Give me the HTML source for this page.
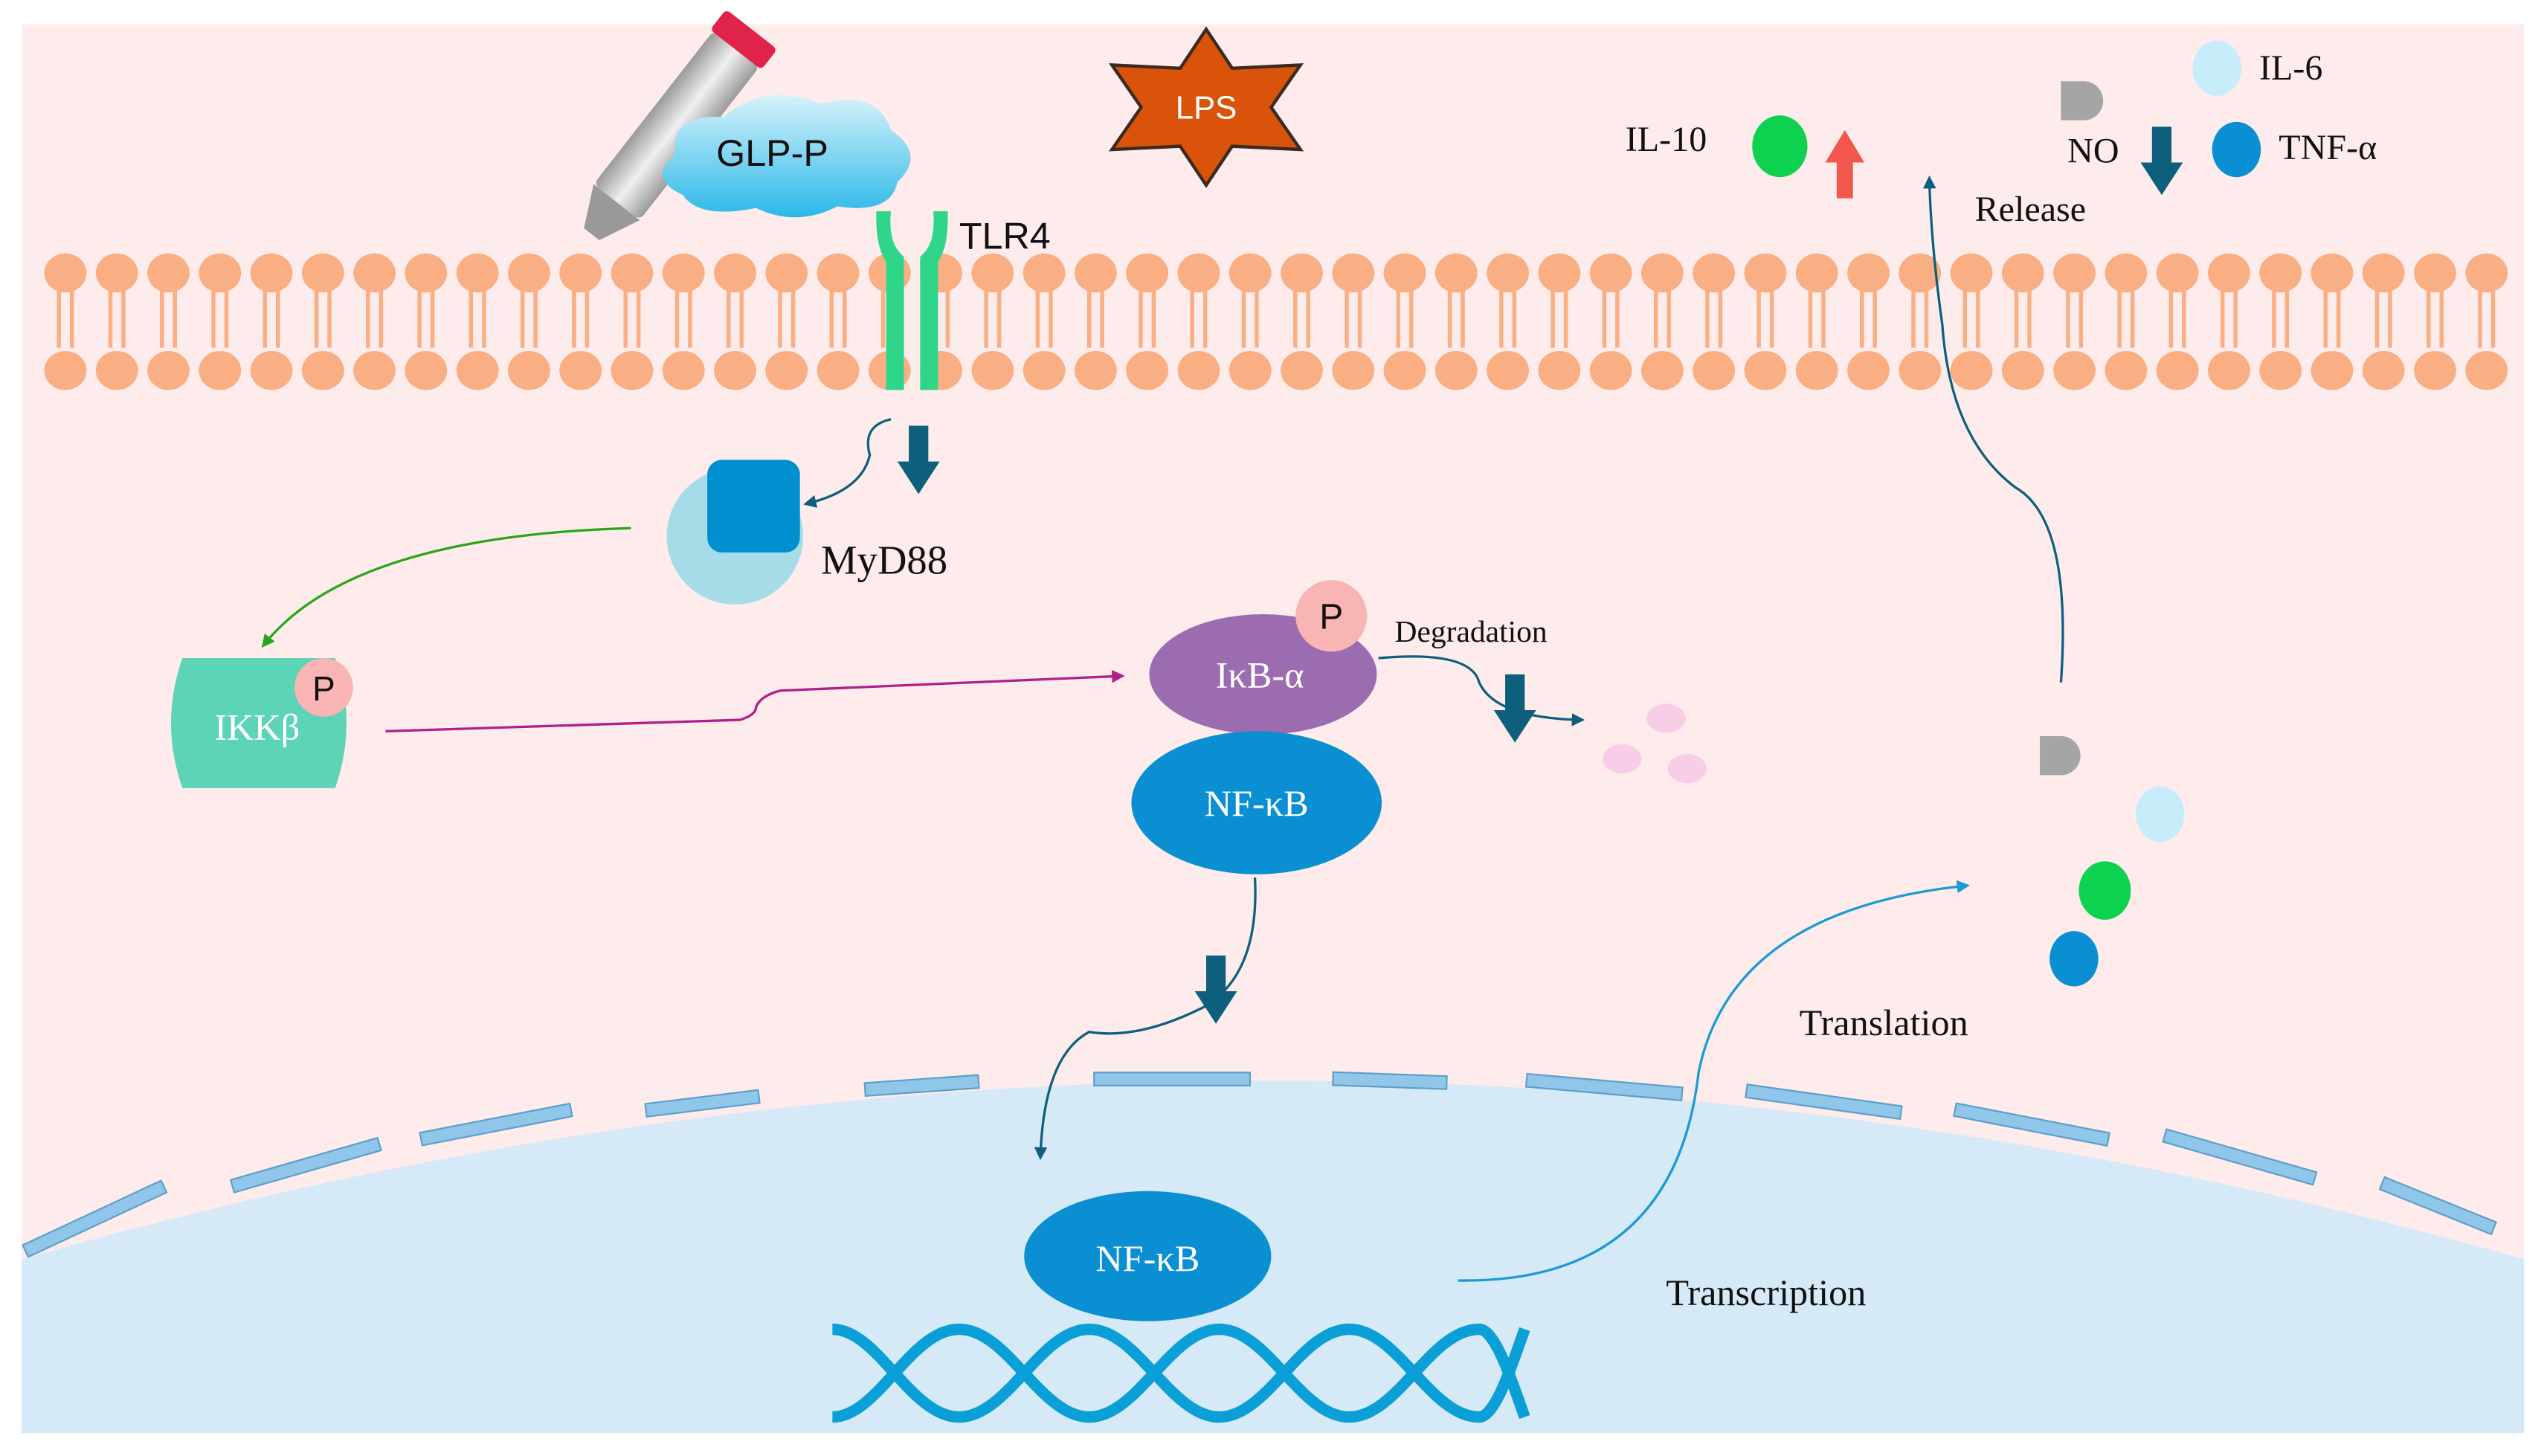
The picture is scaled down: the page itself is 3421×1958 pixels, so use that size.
<!DOCTYPE html>
<html><head><meta charset="utf-8"><style>
html,body{margin:0;padding:0;background:#fff;}
svg{display:block;}
text{font-family:"Liberation Serif",serif;fill:#111;}
</style></head><body>
<svg width="3421" height="1958" viewBox="0 0 1565 896" xmlns="http://www.w3.org/2000/svg">
<defs>
<marker id="ab" markerWidth="8" markerHeight="8" refX="6" refY="4" orient="auto" markerUnits="userSpaceOnUse"><path d="M0,0 L8,4 L0,8 z" fill="#0e5f7d"/></marker>
<marker id="abl" markerWidth="8" markerHeight="8" refX="6" refY="4" orient="auto" markerUnits="userSpaceOnUse"><path d="M0,0 L8,4 L0,8 z" fill="#1a9ad6"/></marker>
<marker id="ag" markerWidth="8" markerHeight="8" refX="6" refY="4" orient="auto" markerUnits="userSpaceOnUse"><path d="M0,0 L8,4 L0,8 z" fill="#2aa51a"/></marker>
<marker id="am" markerWidth="8" markerHeight="8" refX="6" refY="4" orient="auto" markerUnits="userSpaceOnUse"><path d="M0,0 L8,4 L0,8 z" fill="#b0208a"/></marker>
<linearGradient id="cl" x1="0" y1="0" x2="0" y2="1"><stop offset="0" stop-color="#d6f2fb"/><stop offset="1" stop-color="#2bb8e8"/></linearGradient>
<linearGradient id="tb" x1="0" y1="0" x2="1" y2="0"><stop offset="0" stop-color="#9a9a9a"/><stop offset="0.5" stop-color="#f0f0f0"/><stop offset="1" stop-color="#9a9a9a"/></linearGradient>
<g id="lip"><ellipse cx="0" cy="168" rx="13" ry="12" fill="#f9ae84"/><ellipse cx="0" cy="228" rx="13" ry="12" fill="#f9ae84"/><path d="M-4,178 V214 M4,178 V214" stroke="#f9ae84" stroke-width="2.5"/></g>
<g id="da"><rect x="-6" y="0" width="12" height="24" fill="#0e5f7d"/><path d="M-13,22 L13,22 L0,42 z" fill="#0e5f7d"/></g>
</defs>
<rect x="13" y="15" width="1540" height="867" fill="#fdeceb"/>
<path d="M13,775 Q780,555 1553,775 L1553,882 L13,882 Z" fill="#d6e9f6"/>
<g fill="#8fc6ea" stroke="#5d9fc9" stroke-width="1">
<rect x="-47" y="-4" width="94" height="8" transform="translate(58,750) rotate(-25)"/>
<rect x="-47" y="-4" width="94" height="8" transform="translate(188,717) rotate(-16)"/>
<rect x="-47" y="-4" width="94" height="8" transform="translate(305,692) rotate(-11)"/>
<rect x="-35" y="-4" width="70" height="8" transform="translate(432,679) rotate(-7)"/>
<rect x="-35" y="-4" width="70" height="8" transform="translate(567,668) rotate(-4)"/>
<rect x="-48" y="-4" width="96" height="8" transform="translate(721,664) rotate(0)"/>
<rect x="-35" y="-4" width="70" height="8" transform="translate(855,665) rotate(2)"/>
<rect x="-48" y="-4" width="96" height="8" transform="translate(987,669) rotate(5)"/>
<rect x="-48" y="-4" width="96" height="8" transform="translate(1122,678) rotate(8)"/>
<rect x="-48" y="-4" width="96" height="8" transform="translate(1250,692) rotate(11)"/>
<rect x="-48" y="-4" width="96" height="8" transform="translate(1378,712) rotate(16)"/>
<rect x="-37" y="-4" width="74" height="8" transform="translate(1500,742) rotate(22)"/>
</g>
<g>
<use href="#lip" x="40"/><use href="#lip" x="71.7"/><use href="#lip" x="103.4"/><use href="#lip" x="135.1"/><use href="#lip" x="166.8"/><use href="#lip" x="198.5"/><use href="#lip" x="230.2"/><use href="#lip" x="261.9"/><use href="#lip" x="293.6"/><use href="#lip" x="325.3"/><use href="#lip" x="357"/><use href="#lip" x="388.7"/><use href="#lip" x="420.4"/><use href="#lip" x="452.1"/><use href="#lip" x="483.8"/><use href="#lip" x="515.5"/><use href="#lip" x="547.2"/><use href="#lip" x="578.9"/><use href="#lip" x="610.6"/><use href="#lip" x="642.3"/><use href="#lip" x="674"/><use href="#lip" x="705.7"/><use href="#lip" x="737.4"/><use href="#lip" x="769.1"/><use href="#lip" x="800.8"/><use href="#lip" x="832.5"/><use href="#lip" x="864.2"/><use href="#lip" x="895.9"/><use href="#lip" x="927.6"/><use href="#lip" x="959.3"/><use href="#lip" x="991"/><use href="#lip" x="1022.7"/><use href="#lip" x="1054.4"/><use href="#lip" x="1086.1"/><use href="#lip" x="1117.8"/><use href="#lip" x="1149.5"/><use href="#lip" x="1181.2"/><use href="#lip" x="1212.9"/><use href="#lip" x="1244.6"/><use href="#lip" x="1276.3"/><use href="#lip" x="1308"/><use href="#lip" x="1339.7"/><use href="#lip" x="1371.4"/><use href="#lip" x="1403.1"/><use href="#lip" x="1434.8"/><use href="#lip" x="1466.5"/><use href="#lip" x="1498.2"/><use href="#lip" x="1529.9"/>
</g>
<g transform="translate(410,85) rotate(38)">
<rect x="-18" y="-70" width="36" height="120" rx="4" fill="url(#tb)"/>
<path d="M-18,50 L18,50 L6,75 L-6,75 z" fill="#999"/>
<rect x="-20" y="-85" width="40" height="16" rx="3" fill="#e0234a"/>
</g>
<path d="M420,120 Q398,110 415,95 Q412,70 445,72 Q470,50 505,64 Q540,55 548,80 Q570,95 552,112 Q548,132 515,127 Q490,140 465,128 Q430,135 420,120 z" fill="url(#cl)"/>
<text x="475" y="102" font-size="23" text-anchor="middle" style="font-family:'Liberation Sans',sans-serif">GLP-P</text>
<path d="M742,18 L758,42 L800,40 L782,66 L800,92 L758,90 L742,114 L726,90 L684,92 L702,66 L684,40 L726,42 z" fill="#d9540a" stroke="#3a2a20" stroke-width="2"/>
<text x="742" y="73" font-size="20" text-anchor="middle" style="font-family:'Liberation Sans',sans-serif;fill:#fff">LPS</text>
<g fill="#2fd68a">
<rect x="545" y="160" width="11" height="80"/><rect x="566" y="160" width="11" height="80"/>
<path d="M539,130 Q538,165 556,168 L556,158 Q546,150 548,130 z"/>
<path d="M583,130 Q584,165 566,168 L566,158 Q576,150 574,130 z"/>
</g>
<text x="590" y="153" font-size="23" style="font-family:'Liberation Sans',sans-serif">TLR4</text>
<use href="#da" x="565" y="262"/>
<path d="M548,258 Q530,262 535,280 Q530,302 496,310" fill="none" stroke="#0e5f7d" stroke-width="1.5" marker-end="url(#ab)"/>
<circle cx="452" cy="330" r="42" fill="#a6dbe8"/>
<rect x="435" y="283" width="57" height="57" rx="9" fill="#0090d0"/>
<text x="505" y="353" font-size="25">MyD88</text>
<path d="M388,325 Q215,330 162,397" fill="none" stroke="#2aa51a" stroke-width="1.5" marker-end="url(#ag)"/>
<path d="M112,405 L206,405 Q220,445 206,485 L112,485 Q98,445 112,405 z" fill="#5dd4b6"/>
<text x="158" y="455" font-size="23" text-anchor="middle" style="fill:#fff">IKKβ</text>
<circle cx="199" cy="423" r="18" fill="#f9b4b4"/>
<text x="199" y="431" font-size="21" text-anchor="middle" style="font-family:'Liberation Sans',sans-serif">P</text>
<path d="M237,450 L455,443 Q465,440 465,435 Q468,428 480,425 L690,416" fill="none" stroke="#b0208a" stroke-width="1.5" marker-end="url(#am)"/>
<ellipse cx="777" cy="415" rx="70" ry="37" fill="#9b6cb0"/>
<text x="775" y="423" font-size="23" text-anchor="middle" style="fill:#fff">IκB-α</text>
<circle cx="819" cy="379" r="22" fill="#f9b4b4"/>
<text x="819" y="387" font-size="22" text-anchor="middle" style="font-family:'Liberation Sans',sans-serif">P</text>
<ellipse cx="773" cy="494" rx="77" ry="44" fill="#0a8fd3"/>
<text x="773" y="502" font-size="23" text-anchor="middle" style="fill:#fff">NF-κB</text>
<text x="858" y="395" font-size="19">Degradation</text>
<path d="M848,405 Q905,400 910,420 Q920,442 973,443" fill="none" stroke="#0e5f7d" stroke-width="1.5" marker-end="url(#ab)"/>
<use href="#da" x="932" y="415"/>
<ellipse cx="1025" cy="442" rx="12" ry="9" fill="#f8cde8"/>
<ellipse cx="998" cy="467" rx="12" ry="9" fill="#f8cde8"/>
<ellipse cx="1038" cy="473" rx="12" ry="9" fill="#f8cde8"/>
<path d="M772,540 Q775,600 740,620 Q700,640 670,635 Q642,650 640,712" fill="none" stroke="#0e5f7d" stroke-width="1.5" marker-end="url(#ab)"/>
<use href="#da" x="748" y="588"/>
<ellipse cx="706" cy="773" rx="76" ry="40" fill="#0a8fd3"/>
<text x="706" y="782" font-size="23" text-anchor="middle" style="fill:#fff">NF-κB</text>
<g fill="none" stroke="#0a9fd6" stroke-width="7">
<path d="M512,818 C540,818 560,872 590,872 C620,872 640,818 670,818 C700,818 720,872 750,872 C780,872 800,818 830,818 C860,818 880,872 910,872 C920,872 930,840 938,818"/>
<path d="M512,872 C540,872 560,818 590,818 C620,818 640,872 670,872 C700,872 720,818 750,818 C780,818 800,872 830,872 C860,872 880,818 910,818 C920,818 930,850 938,872"/>
</g>
<text x="1025" y="803" font-size="23">Transcription</text>
<text x="1107" y="637" font-size="23">Translation</text>
<path d="M897,788 Q1030,790 1045,660 Q1065,560 1210,545" fill="none" stroke="#1a9ad6" stroke-width="1.5" marker-end="url(#abl)"/>
<path d="M1255,453 L1268,453 A12,12 0 0 1 1268,477 L1255,477 z" fill="#a5a5a5"/>
<ellipse cx="1329" cy="501" rx="15" ry="17" fill="#c7ecfa"/>
<ellipse cx="1295" cy="548" rx="16" ry="18" fill="#0ed150"/>
<ellipse cx="1276" cy="590" rx="15" ry="17" fill="#0a8fd3"/>
<path d="M1268,420 Q1275,320 1240,300 Q1200,270 1195,200 Q1188,150 1187,110" fill="none" stroke="#0e5f7d" stroke-width="1.5" marker-end="url(#ab)"/>
<text x="1215" y="136" font-size="22">Release</text>
<text x="1000" y="93" font-size="22">IL-10</text>
<ellipse cx="1095" cy="90" rx="17" ry="19" fill="#0ed150"/>
<path d="M1130,122 L1130,100 L1123,100 L1135,80 L1147,100 L1140,100 L1140,122 z" fill="#f2574e"/>
<path d="M1268,50 L1282,50 A12,12 0 0 1 1282,74 L1268,74 z" fill="#a5a5a5"/>
<text x="1272" y="100" font-size="22">NO</text>
<use href="#da" x="1330" y="78"/>
<ellipse cx="1364" cy="42" rx="15" ry="17" fill="#c7ecfa"/>
<text x="1390" y="49" font-size="22">IL-6</text>
<ellipse cx="1376" cy="92" rx="15" ry="17" fill="#0a8fd3"/>
<text x="1402" y="98" font-size="22">TNF-α</text>
</svg>
</body></html>
